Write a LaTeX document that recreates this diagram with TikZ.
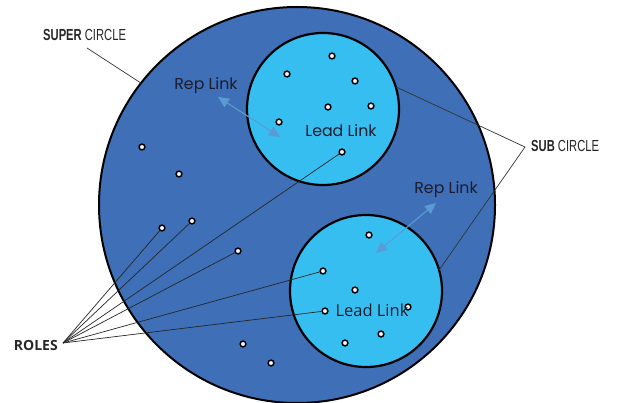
\documentclass[tikz,border=0pt]{standalone}
\usepackage{fontspec}
\usepackage{graphicx}
\usetikzlibrary{arrows.meta}
\newfontfamily\popfont{Poppins}
\newfontfamily\osfont{Open Sans}
\newfontfamily\arfont{Liberation Sans}
\definecolor{superblue}{HTML}{3F6FB6}
\definecolor{subblue}{HTML}{37BEF0}
\definecolor{linkblue}{HTML}{5B9BD5}
\definecolor{inkdark}{HTML}{1C1C2E}
\newcommand{\tagtext}[2]{\scalebox{0.7}[1]{\arfont\fontsize{16}{18}\selectfont\textbf{#1} #2}}

\begin{document}
\begin{tikzpicture}[x=1pt, y=-1pt,
    r/.style={circle,draw=black,fill=white,line width=1.5pt,inner sep=0pt,minimum size=5.8pt},
    sub/.style={circle,draw=black,fill=subblue,line width=2.2pt,inner sep=0pt,outer sep=0pt,minimum size=152pt},
    lnk/.style={linkblue,line width=1.1pt,{Triangle[length=11pt,width=10pt]}-{Triangle[length=11pt,width=10pt]}},
    lbl/.style={text=inkdark,font=\popfont\fontsize{15.8}{18}\selectfont,inner sep=0pt},
    tag/.style={text=black!85,inner sep=0pt}]
    \useasboundingbox (0,0) rectangle (617,403);

    \node[circle,draw=black,fill=superblue,line width=2pt,inner sep=0pt,outer sep=0pt,minimum size=396pt] (super) at (297,205) {};
    \node[sub] (up) at (323,109) {};
    \node[sub] (low) at (366,291) {};

    \node[tag,anchor=south west] (supertag) at (43,41) {\tagtext{SUPER}{CIRCLE}};
    \node[tag,anchor=west] (subtag) at (531,146) {\tagtext{SUB}{CIRCLE}};
    \node[tag,anchor=east,font=\osfont\bfseries\fontsize{14}{16}\selectfont] (rolestag) at (58,345) {ROLES};

    \coordinate (sc) at (87,48);
    \coordinate (sv) at (525,147);
    \coordinate (rv) at (63,343);

    % roles in the upper sub circle
    \node[r] (u1) at (332,56) {};
    \node[r] (u2) at (287,74) {};
    \node[r] (u3) at (355,81) {};
    \node[r] (u4) at (328,107) {};
    \node[r] (u5) at (371,106) {};
    \node[r] (u6) at (279,122) {};
    \node[r] (u7) at (342,152) {};

    % roles in the super circle
    \node[r] (o1) at (142,147) {};
    \node[r] (o2) at (179,174) {};
    \node[r] (o3) at (162,228) {};
    \node[r] (o4) at (192,221) {};
    \node[r] (o5) at (238,251) {};
    \node[r] (o6) at (243,344) {};
    \node[r] (o7) at (271,363) {};

    % roles in the lower sub circle
    \node[r] (l1) at (369,235) {};
    \node[r] (l2) at (323,271) {};
    \node[r] (l3) at (355,290) {};
    \node[r] (l4) at (325,311) {};
    \node[r] (l5) at (408,307) {};
    \node[r] (l6) at (381,334) {};
    \node[r] (l7) at (345,343) {};

    \draw[-,black!80,line width=0.7pt] (sc) to (super.142);
    \draw[-,black!80,line width=0.7pt] (up.17) to (sv);
    \draw[-,black!80,line width=0.7pt] (sv) to (low.16);

    \draw[-,black!85,line width=0.7pt] (rv) to (o3);
    \draw[-,black!85,line width=0.7pt] (rv) to (o4);
    \draw[-,black!85,line width=0.7pt] (rv) to (u7);
    \draw[-,black!85,line width=0.7pt] (rv) to (o5);
    \draw[-,black!85,line width=0.7pt] (rv) to (l2);
    \draw[-,black!85,line width=0.7pt] (rv) to (l4);

    \coordinate (ua) at (218,97);
    \coordinate (ub) at (280,137);
    \coordinate (la) at (436,203);
    \coordinate (lb) at (376,253);
    \draw[lnk] (ua) to (ub);
    \draw[lnk] (la) to (lb);

    \node[lbl] (reptop) at (206,86) {Rep Link};
    \node[lbl] (leadtop) at (341,131) {Lead Link};
    \node[lbl] (repbot) at (446,190) {Rep Link};
    \node[lbl,font=\osfont\fontsize{16.5}{19}\selectfont] (leadbot) at (372,310) {Lead Link};
\end{tikzpicture}
\end{document}
